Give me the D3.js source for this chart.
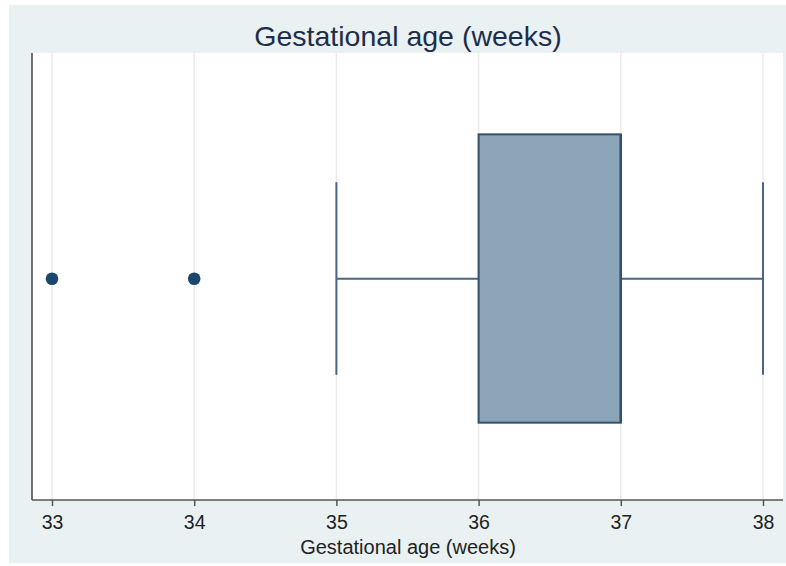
<!DOCTYPE html>
<html>
<head>
<meta charset="utf-8">
<script src="https://cdn.jsdelivr.net/npm/d3@7"></script>
<style>
  html, body { margin: 0; padding: 0; background: #ffffff; }
  svg { display: block; font-family: "Liberation Sans", Arial, sans-serif; }
</style>
</head>
<body>
<svg id="chart" width="786" height="566"></svg>
<script>
// Box plot summary for gestational age (weeks)
const tickValues = [33, 34, 35, 36, 37, 38];
const boxStats = { lowerWhisker: 35, q1: 36, median: 37, q3: 37, upperWhisker: 38 };
const outliers = [33, 34];
const titleText = "Gestational age (weeks)";
const axisTitle = "Gestational age (weeks)";

const svg = d3.select("#chart");
const W = 786, H = 566;

// Graph region background
svg.append("rect")
  .attr("x", 9).attr("y", 5)
  .attr("width", W - 9).attr("height", 558)
  .attr("fill", "#eaf1f3");

const plot = { left: 32, right: 783, top: 53, bottom: 500 };

svg.append("rect")
  .attr("x", plot.left).attr("y", plot.top)
  .attr("width", plot.right - plot.left).attr("height", plot.bottom - plot.top)
  .attr("fill", "#ffffff");

const x = d3.scaleLinear().domain([33, 38]).range([52, 763]);
const y = d3.scaleLinear().domain([0, 1]).range([plot.bottom, plot.top]);

// Vertical grid lines
svg.append("g")
  .selectAll("line")
  .data(tickValues)
  .join("line")
  .attr("x1", d => x(d)).attr("x2", d => x(d))
  .attr("y1", plot.top).attr("y2", plot.bottom)
  .attr("stroke", "#eaeaea")
  .attr("stroke-width", 1.5);

// Left axis line
svg.append("line")
  .attr("x1", plot.left).attr("x2", plot.left)
  .attr("y1", plot.top).attr("y2", plot.bottom)
  .attr("stroke", "#444").attr("stroke-width", 1.5);

// Bottom axis
const xAxis = d3.axisBottom(x).tickValues(tickValues).tickSize(6).tickPadding(9).tickFormat(d3.format("d"));
const gx = svg.append("g")
  .attr("transform", `translate(0,${plot.bottom})`)
  .call(xAxis);
gx.select(".domain").remove();
gx.append("line")
  .attr("x1", plot.left).attr("x2", plot.right)
  .attr("y1", 0).attr("y2", 0)
  .attr("stroke", "#555").attr("stroke-width", 1.5);
gx.selectAll(".tick line").attr("stroke", "#555").attr("stroke-width", 1.5);
gx.selectAll(".tick text")
  .attr("fill", "#222")
  .attr("font-size", 19.5)
  .attr("font-family", "Liberation Sans, Arial, sans-serif");

const yc = y(0.495);
const boxTop = y(0.818), boxBot = y(0.173);
const capTop = y(0.711), capBot = y(0.28);
const lineColor = "#4a6585";

// Whiskers
const g = svg.append("g");
g.append("line")
  .attr("x1", x(boxStats.lowerWhisker)).attr("x2", x(boxStats.q1))
  .attr("y1", yc).attr("y2", yc)
  .attr("stroke", lineColor).attr("stroke-width", 2);
g.append("line")
  .attr("x1", x(boxStats.q3)).attr("x2", x(boxStats.upperWhisker))
  .attr("y1", yc).attr("y2", yc)
  .attr("stroke", lineColor).attr("stroke-width", 2);
[boxStats.lowerWhisker, boxStats.upperWhisker].forEach(v => {
  g.append("line")
    .attr("x1", x(v)).attr("x2", x(v))
    .attr("y1", capTop).attr("y2", capBot)
    .attr("stroke", lineColor).attr("stroke-width", 2);
});

// Box
g.append("rect")
  .attr("x", x(boxStats.q1)).attr("y", boxTop)
  .attr("width", x(boxStats.q3) - x(boxStats.q1))
  .attr("height", boxBot - boxTop)
  .attr("fill", "#8ca4b8")
  .attr("stroke", "#33506f").attr("stroke-width", 2);

// Median
g.append("line")
  .attr("x1", x(boxStats.median)).attr("x2", x(boxStats.median))
  .attr("y1", boxTop).attr("y2", boxBot)
  .attr("stroke", "#33506f").attr("stroke-width", 2.5);

// Outliers
g.selectAll("circle")
  .data(outliers)
  .join("circle")
  .attr("cx", d => x(d)).attr("cy", yc)
  .attr("r", 6.3)
  .attr("fill", "#1b466e");

// Title
svg.append("text")
  .attr("x", 408).attr("y", 46)
  .attr("text-anchor", "middle")
  .attr("font-size", 28.5)
  .attr("fill", "#1e2d4a")
  .text(titleText);

// Axis title
svg.append("text")
  .attr("x", 408).attr("y", 554)
  .attr("text-anchor", "middle")
  .attr("font-size", 20)
  .attr("fill", "#222")
  .text(axisTitle);
</script>
</body>
</html>
